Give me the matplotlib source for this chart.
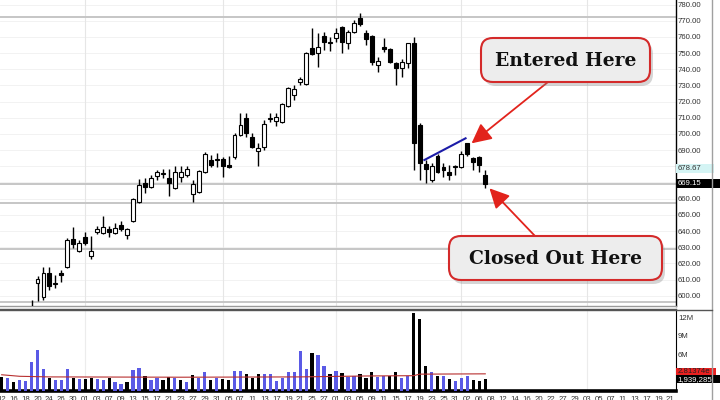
import matplotlib
matplotlib.use("Agg")
import matplotlib.pyplot as plt
from matplotlib.patches import Rectangle, FancyBboxPatch
from matplotlib.lines import Line2D
import matplotlib.transforms as mtransforms
import numpy as np

# ---------------- data ----------------
opens = [583, 581, 586, 583, 587, 588, 608.1, 599.4, 614.3, 607.4,
         614.3, 618.0, 635.1, 627.7, 636.5, 624.5, 639.4, 639.0, 641.0, 638.6,
         643.6, 637.4, 646.4, 658.1, 669.9, 667.1, 674.0, 675.3, 672.6, 666.4,
         673.6, 674.6, 662.7, 664.3, 676.7, 683.9, 684.0, 684.3, 680.8, 685.6,
         699.4, 709.7, 697.9, 689.5, 692.0, 709.5, 708.2, 707.6, 717.3, 724.1,
         732.1, 730.9, 752.9, 750.2, 760.5, 756.2, 759.1, 766.3, 756.0, 763.2,
         771.5, 762.2, 760.5, 742.6, 753.8, 752.3, 743.7, 740.6, 744.0, 756.4,
         705.5, 681.4, 671.5, 686.4, 679.8, 676.7, 679.6, 679.4, 694.2, 685.0,
         685.6, 674.6]
highs = [587, 588, 589, 589, 590, 597.5, 612.0, 617.6, 617.6, 612.8,
         615.9, 635.5, 642.3, 634.5, 639.6, 636.9, 643.1, 649.3, 643.1, 644.8,
         645.9, 642.0, 660.2, 672.0, 672.6, 674.6, 677.7, 678.2, 678.2, 680.4,
         680.4, 680.4, 671.6, 677.5, 689.0, 687.0, 688.4, 685.5, 686.1, 700.4,
         712.8, 712.8, 700.4, 694.2, 708.6, 712.8, 713.2, 719.3, 729.0, 730.3,
         735.0, 750.8, 765.3, 762.2, 763.2, 759.7, 765.3, 766.7, 764.3, 770.4,
         775.0, 764.3, 761.2, 747.4, 759.1, 752.9, 744.7, 746.1, 756.4, 760.1,
         706.6, 683.9, 681.9, 687.6, 681.9, 680.8, 680.8, 689.7, 694.6, 685.6,
         686.4, 677.7]
lows = [579, 580, 582, 582, 584, 586, 596.6, 597.4, 603.6, 604.6,
        608.7, 617.0, 629.3, 627.2, 631.4, 622.5, 638.2, 638.2, 636.1, 638.2,
        640.0, 635.0, 645.8, 657.5, 663.7, 666.5, 671.6, 672.6, 661.7, 666.0,
        670.5, 673.6, 658.1, 663.5, 675.7, 679.8, 679.8, 673.2, 678.8, 684.3,
        698.7, 697.9, 691.1, 680.2, 690.1, 707.6, 704.9, 706.6, 716.5, 720.9,
        730.3, 730.3, 748.8, 741.6, 751.9, 751.5, 757.0, 750.2, 752.3, 762.2,
        766.7, 755.0, 742.6, 738.5, 750.8, 744.0, 730.3, 735.4, 740.6, 677.7,
        671.5, 669.9, 670.6, 675.7, 673.6, 671.5, 674.6, 678.8, 686.1, 677.7,
        676.7, 666.4]
closes = [581, 586, 583, 587, 588, 591, 610.2, 614.3, 606.0, 608.0,
          612.6, 634.5, 632.0, 632.4, 632.4, 627.8, 641.0, 642.3, 639.4, 641.7,
          641.1, 641.5, 659.6, 668.5, 667.4, 672.6, 676.7, 676.0, 669.5, 676.7,
          676.7, 678.2, 669.1, 677.1, 687.6, 680.8, 684.5, 680.2, 679.8, 699.4,
          705.5, 700.4, 691.8, 691.1, 706.1, 709.9, 710.7, 718.5, 728.2, 727.8,
          733.8, 749.8, 749.4, 753.5, 757.0, 756.6, 762.2, 757.0, 763.2, 768.4,
          768.0, 758.5, 744.7, 745.3, 752.3, 744.7, 740.6, 744.7, 756.0, 694.2,
          681.9, 678.2, 680.2, 676.7, 677.7, 674.6, 680.0, 687.6, 687.6, 682.9,
          680.8, 669.15]

volume_m = [2.34, 2.07, 1.52, 1.74, 1.63, 4.78, 6.74, 3.64, 2.17, 1.85,
            1.74, 3.64, 2.17, 1.96, 1.96, 2.07, 1.96, 1.85, 2.07, 1.41,
            1.20, 1.52, 3.42, 3.80, 2.45, 1.74, 2.07, 1.85, 2.28, 2.07,
            1.85, 1.52, 2.61, 2.07, 3.04, 1.74, 2.17, 1.96, 1.74, 3.21,
            3.26, 2.72, 2.07, 2.72, 2.72, 2.72, 1.63, 2.07, 3.15, 3.04,
            6.58, 3.64, 6.25, 5.87, 4.02, 2.83, 3.32, 2.93, 2.28, 2.50,
            2.83, 2.07, 3.04, 2.28, 2.39, 2.39, 3.04, 2.17, 2.39, 12.7,
            11.7, 4.13, 3.04, 2.50, 2.39, 1.96, 1.63, 2.07, 2.39, 1.74,
            1.63, 1.94]
volume_up = [0, 1, 0, 1, 1, 1, 1, 1, 0, 1,
             1, 1, 0, 1, 0, 0, 1, 1, 0, 1,
             1, 0, 1, 1, 0, 1, 1, 0, 0, 1,
             0, 1, 0, 1, 1, 0, 1, 0, 0, 1,
             1, 0, 0, 0, 1, 1, 1, 1, 1, 1,
             1, 1, 0, 1, 1, 0, 1, 0, 1, 1,
             0, 0, 0, 1, 1, 0, 0, 1, 1, 0,
             0, 0, 1, 0, 1, 0, 1, 1, 1, 0,
             0, 0]

vol_ma_x = [0, 3, 8, 30, 50, 61, 69, 70, 81]
vol_ma = [2.65, 2.40, 2.30, 2.25, 2.30, 2.45, 2.50, 2.75, 2.80]

date_labels = ["12", "16", "18", "20", "24", "26", "30", "01", "03", "07", "09", "13",
               "15", "17", "21", "23", "27", "29", "31", "05", "07", "11", "13", "17",
               "19", "21", "25", "27", "01", "03", "05", "09", "11", "15", "17", "19",
               "23", "25", "31", "02", "06", "08", "12", "14", "16", "20", "22", "27",
               "29", "03", "05", "07", "11", "13", "17", "19", "21"]
month_start_bars = [14, 37, 56, 77, 98]
level_lines = [772.1, 669.15, 657.5, 629.1, 596.3]
trend_x = [70.8, 77.7]
trend_y = [683.9, 697.3]
last_close = 669.15
ma_last = 678.67
vol_ma_last_val = 2.81374
vol_ma_last = "2.81374e"
vol_last_val = 1.939285
vol_last = "1,939,285"
price_ticks = list(range(600, 790, 10))
vol_ticks = [6, 9, 12]
entry_point = (78.7, 694.2)
exit_point = (81.7, 666.4)

# ---------------- figure ----------------
W, H = 720, 400
fig = plt.figure(figsize=(7.2, 4.0), dpi=100)
fig.patch.set_facecolor("white")

def fy(py):
    return 1 - py / H

right_px = 676
ax = fig.add_axes([0, fy(306), right_px / W, fy(0) - fy(306)])
axv = fig.add_axes([0, fy(391), right_px / W, fy(309) - fy(391)])

n = len(opens)
idx = np.arange(n)
xmin, xmax = -0.285, 112.95
lab_font = dict(fontsize=5.6, family="Liberation Sans")

# grid
for v in price_ticks:
    ax.axhline(v, color="#f0f0f0", lw=0.6, zorder=0)
for b in month_start_bars:
    ax.axvline(b, color="#e6e6e6", lw=0.8, zorder=0)
    axv.axvline(b, color="#ececec", lw=0.8, zorder=0)
for v in level_lines:
    ax.axhline(v, color="#c6c6c6", lw=1.4, zorder=1)

# candles
bw = 0.66
for i in range(n):
    o, h, l, c = opens[i], highs[i], lows[i], closes[i]
    ax.vlines(i, l, h, color="black", lw=1.0, zorder=3)
    lo = min(o, c)
    hgt = max(abs(c - o), 0.35)
    fc = "white" if c >= o else "black"
    ax.add_patch(Rectangle((i - bw / 2, lo), bw, hgt, facecolor=fc,
                           edgecolor="black", lw=0.8, zorder=4))

ax.plot(trend_x, trend_y, color="#1c1ca8", lw=1.5, zorder=5)

ax.set_xlim(xmin, xmax)
ax.set_ylim(593.67, 782.79)
ax.yaxis.tick_right()
ax.set_yticks(price_ticks)
ax.set_yticklabels([f"{v:.2f}" for v in price_ticks], color="#333333", **lab_font)
ax.tick_params(axis="y", length=0, pad=1.5)
ax.set_xticks([])
for s in ["top", "left"]:
    ax.spines[s].set_visible(False)
ax.spines["right"].set_color("black")
ax.spines["right"].set_linewidth(1.0)
ax.spines["bottom"].set_color("#9a9a9a")
ax.spines["bottom"].set_linewidth(1.0)

# right-side value tags (price)
bt = mtransforms.blended_transform_factory(ax.transAxes, ax.transData)
hgt_u = 9 / 1.618
ax.add_patch(Rectangle((1.0, ma_last - hgt_u / 2), 38 / right_px, hgt_u,
                       transform=bt, facecolor="#d4f4f4", edgecolor="none",
                       clip_on=False, zorder=6))
ax.text(1.0 + 1.5 / right_px, ma_last, f"{ma_last:.2f}", transform=bt, va="center",
        ha="left", color="#333333", clip_on=False, zorder=7, **lab_font)
ax.add_patch(Rectangle((1.0, last_close - hgt_u / 2), 44 / right_px, hgt_u,
                       transform=bt, facecolor="black", edgecolor="none",
                       clip_on=False, zorder=6))
ax.text(1.0 + 1.5 / right_px, last_close, f"{last_close:.2f}", transform=bt, va="center",
        ha="left", color="white", clip_on=False, zorder=7, **lab_font)

# volume
cols = ["#5a5ae6" if u else "black" for u in volume_up]
axv.bar(idx, volume_m, width=0.55, color=cols, zorder=3)
axv.plot(vol_ma_x, vol_ma, color="#b83030", lw=0.8, zorder=4)
axv.set_xlim(xmin, xmax)
axv.set_ylim(0, 13.38)
axv.yaxis.tick_right()
axv.set_yticks(vol_ticks)
axv.set_yticklabels([f"{v}M" for v in vol_ticks], color="#333333", **lab_font)
axv.tick_params(axis="y", length=0, pad=1.5)
axv.set_xticks(np.arange(0, 2 * len(date_labels), 2))
axv.set_xticklabels(date_labels, color="#333333", **lab_font)
axv.tick_params(axis="x", length=0, pad=3.4)
axv.spines["left"].set_visible(False)
axv.spines["top"].set_color("#555555")
axv.spines["top"].set_linewidth(1.0)
axv.spines["right"].set_color("black")
axv.spines["bottom"].set_color("black")
axv.spines["bottom"].set_linewidth(2.6)

bv = mtransforms.blended_transform_factory(axv.transAxes, axv.transData)
vh = 8 / 6.13
red_y = vol_ma_last_val + 0.35
axv.add_patch(Rectangle((1.0, red_y - vh / 2), 40 / right_px, vh, transform=bv,
                        facecolor="#e82020", edgecolor="none", clip_on=False, zorder=6))
axv.text(1.0 + 1.5 / right_px, red_y, vol_ma_last, transform=bv, va="center", ha="left",
         color="#222222", clip_on=False, zorder=7, **lab_font)
axv.add_patch(Rectangle((1.0, vol_last_val - vh / 2), 44 / right_px, vh, transform=bv,
                        facecolor="black", edgecolor="none", clip_on=False, zorder=8))
axv.text(1.0 + 1.5 / right_px, vol_last_val, vol_last, transform=bv, va="center", ha="left",
         color="white", clip_on=False, zorder=9, **lab_font)

# frame lines
fig.add_artist(Line2D([712 / W, 712 / W], [0, 1], color="#a0a0a0", lw=1.0))
fig.add_artist(Line2D([0, 712 / W], [fy(309.5), fy(309.5)], color="#555555", lw=1.0))

# arrows
arrow_kw = dict(arrowstyle="-|>,head_length=1.0,head_width=0.5", color="#e2231c",
                lw=1.3, shrinkA=0, shrinkB=0, mutation_scale=12)
ax.annotate("", xy=entry_point, xycoords="data", xytext=(548, H - 82),
            textcoords="figure pixels", arrowprops=arrow_kw, annotation_clip=False)
ax.annotate("", xy=exit_point, xycoords="data", xytext=(535, H - 236),
            textcoords="figure pixels", arrowprops=arrow_kw, annotation_clip=False)

# callout boxes (overlay in pixel space)
ov = fig.add_axes([0, 0, 1, 1], zorder=20)
ov.set_xlim(0, W)
ov.set_ylim(H, 0)
ov.axis("off")
ov.patch.set_alpha(0)

def callout(x0, y0, x1, y1, text):
    ov.add_patch(FancyBboxPatch((x0 + 3, y0 + 4), x1 - x0, y1 - y0,
                                boxstyle="round,pad=0,rounding_size=12",
                                facecolor="#888888", edgecolor="none", alpha=0.35))
    ov.add_patch(FancyBboxPatch((x0, y0), x1 - x0, y1 - y0,
                                boxstyle="round,pad=0,rounding_size=12",
                                facecolor="#ededed", edgecolor="#d42a2a", lw=1.5))
    ov.text((x0 + x1) / 2, (y0 + y1) / 2 + 1, text, ha="center", va="center",
            fontsize=13.5, fontweight="bold", family="DejaVu Serif", color="#111111")

callout(481, 38, 650, 82, "Entered Here")
callout(449, 236, 662, 280, "Closed Out Here")

fig.savefig("out.png", dpi=100)
